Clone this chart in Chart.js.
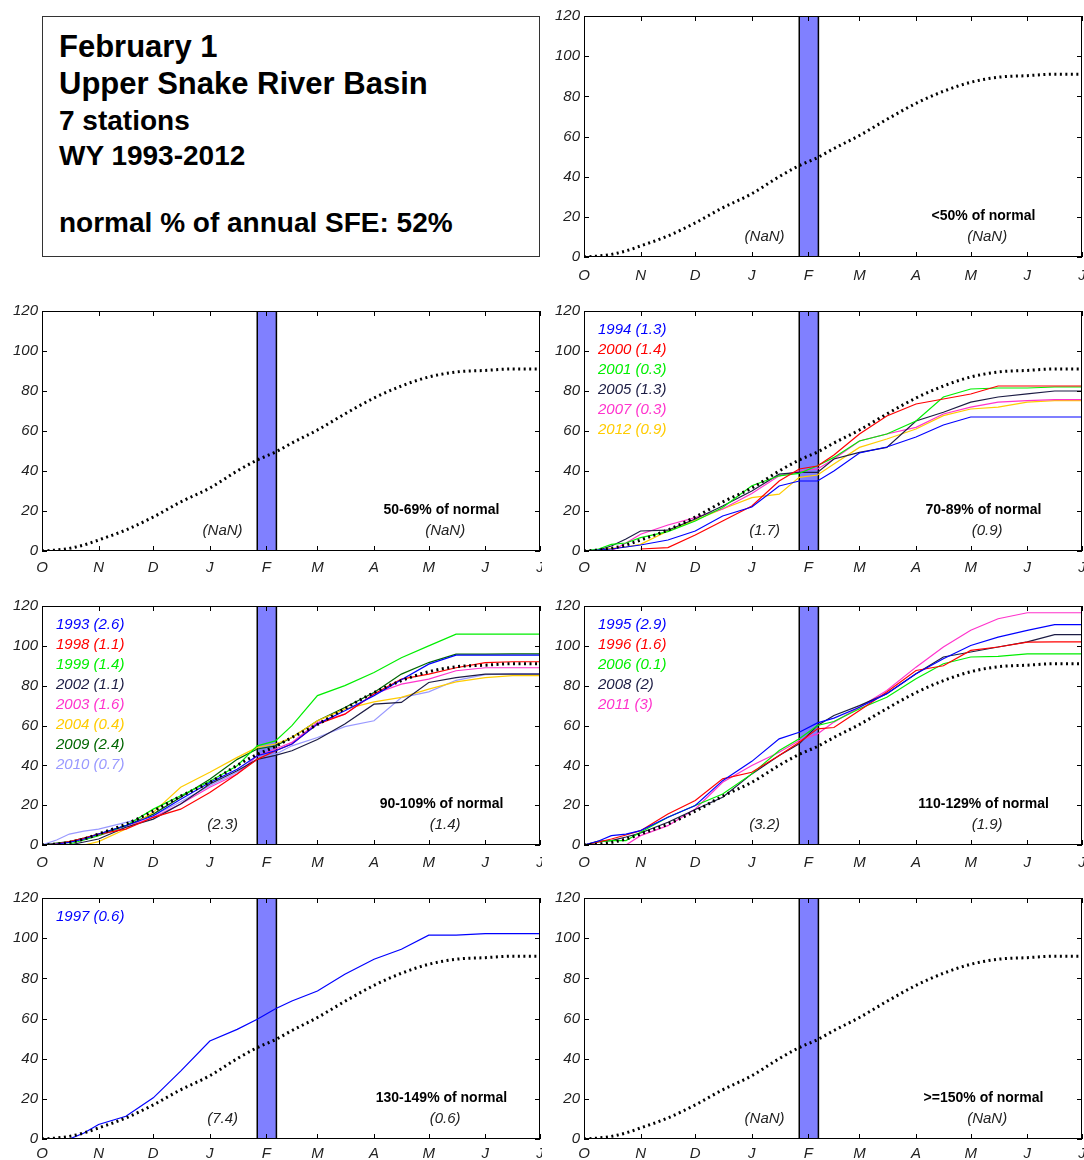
<!DOCTYPE html>
<html>
<head>
<meta charset="utf-8">
<script src="https://cdn.jsdelivr.net/npm/chart.js@4.4.1/dist/chart.umd.min.js"></script>
<style>
  html, body { margin: 0; padding: 0; background: #fff; overflow: hidden; }
  #wrap { position: relative; width: 1084px; height: 1160px; overflow: hidden; }
  canvas { position: absolute; }
  #info {
    position: absolute; left: 42px; top: 16px; width: 498px; height: 241px;
    border: 1px solid #333; box-sizing: border-box;
    font-family: "Liberation Sans", Arial, sans-serif; font-weight: bold; color: #000;
  }
  #info div { position: absolute; left: 16px; line-height: 1; white-space: nowrap; }
</style>
</head>
<body>
<div id="wrap">
  <div id="info">
    <div style="top:14px;font-size:31px">February 1</div>
    <div style="top:51px;font-size:31px">Upper Snake River Basin</div>
    <div style="top:90px;font-size:28px">7 stations</div>
    <div style="top:125px;font-size:28px">WY 1993-2012</div>
    <div style="top:192px;font-size:28px">normal % of annual SFE: 52%</div>
  </div>
</div>
<script>
// day of water year (0 = Oct 1)
const days = [0, 8, 15, 23, 31, 46, 61, 76, 92, 107, 118, 128, 137, 151, 166, 182, 197, 212, 227, 243, 258, 273];
const monthDays = [0, 31, 61, 92, 123, 151, 182, 212, 243, 273];
const monthLabels = ['O', 'N', 'D', 'J', 'F', 'M', 'A', 'M', 'J', 'J'];
const yTicks = [0, 20, 40, 60, 80, 100, 120];
const bandDays = [118, 128.5];

// normal accumulation, % of annual
const normal = [0, 0.5, 1.3, 3, 5.5, 10.5, 17, 24.5, 31.5, 40, 45.5, 49.5, 54, 60.5, 68.5, 76.5, 82.5, 87, 89.5, 90.3, 91, 91];

// 70-89% of normal
const s1994 = [0, 0.5, 1, 2, 3, 5.5, 10, 17.5, 22, 32.5, 35, 35, 40, 49, 52, 57, 63, 67, 67, 67, 67, 67];
const s2000 = [null, null, null, null, 1, 1.7, 8, 15, 22.5, 35, 41, 42.5, 48, 58.5, 67.5, 73.5, 76, 78.5, 82.5, 82.5, 82.5, 82.5];
const s2001 = [0, 1, 3.3, 4, 6.7, 9.7, 15, 21.7, 32.6, 37.6, 38.8, 42.6, 46.8, 55, 58.5, 65, 77, 81, 81.5, 81.5, 82, 82];
const s2005 = [0, 0.5, 2.5, 6, 10, 10.4, 16, 22.5, 30, 38.4, 39.3, 39.3, 46, 49.3, 51.8, 65, 69.4, 74.4, 77, 78.6, 80, 80];
const s2007 = [null, null, 0, 4, 8.4, 13, 16.7, 21, 28.7, 37.6, 40, 41, 46, 55, 58.5, 61.8, 68.5, 71.9, 74.4, 75.2, 75.7, 75.7];
const s2012 = [0, 0.5, 1.3, 2, 3.3, 10, 15.5, 21, 26.7, 28.4, 36.8, 38, 43.5, 51.8, 56, 61, 67.7, 71, 71.9, 74.4, 75.2, 75.2];

// 90-109% of normal
const s1993 = [0, 0.5, 1.3, 3, 5.5, 9.7, 14.7, 23, 31.4, 38, 44.8, 47.3, 50.7, 60.7, 67.4, 75, 83, 90.8, 95.3, 95.3, 95.3, 95.3];
const s1998 = [0, 0.5, 1.7, 3.5, 5.5, 8, 13.9, 18, 26.4, 35.6, 43, 47.3, 50.7, 60.7, 65.7, 75.8, 83.3, 85.8, 89, 91.6, 92, 92];
const s1999 = [0, 0, 0.5, 2.5, 4.7, 9.7, 18, 24.7, 32, 39.8, 49.8, 52.3, 59.9, 75, 80, 86.6, 94, 100, 105.9, 105.9, 105.9, 105.9];
const s2002 = [null, null, 0, 1.5, 3, 8.9, 13, 20.6, 30.6, 37.3, 43, 45, 47.3, 53, 60.7, 70.7, 71.6, 81.6, 84, 85.8, 85.8, 85.8];
const s2003 = [0, 0.5, 1.5, 3, 4.7, 8.9, 13.9, 20.6, 29, 35.6, 44.8, 48.2, 51.5, 61.5, 65.7, 75.8, 80.8, 83.3, 87.5, 89, 89, 89];
const s2004 = [null, null, null, 0, 1.7, 8, 16.4, 29, 36.5, 44, 49, 50.7, 54, 62.4, 68.2, 71.9, 74.1, 78.3, 81.9, 84, 85, 85];
const s2009 = [0, 1, 1.7, 3.5, 5.5, 9.7, 15.5, 24, 33, 43, 48.2, 49.8, 54, 62.4, 69, 76.6, 85.8, 91.6, 95.8, 95.8, 96, 96];
const s2010 = [0, 2.5, 5.5, 7, 8, 11.4, 14.7, 21.7, 29.8, 36.5, 43, 45.6, 49.8, 54, 59.4, 62.4, 74, 76.9, 82.7, 85.5, 86, 86];

// 110-129% of normal
const s1995 = [0, 2, 4.7, 5.5, 7.2, 13.9, 19.8, 32.3, 42, 53.3, 56.6, 61.3, 63.7, 69.2, 76, 86, 93.5, 100.2, 104.4, 107.8, 110.6, 110.6];
const s1996 = [0, 1.5, 3, 5, 7.2, 15.6, 22.3, 33.2, 36.5, 44.9, 51.6, 58.3, 59, 67.5, 76.8, 87.6, 90, 97.7, 99.4, 101.9, 102, 102];
const s2006 = [0, 1.5, 2.2, 2.2, 6.4, 13.9, 19.8, 25.6, 35.7, 47.4, 53.3, 60, 62, 68.4, 74.2, 83.5, 91, 94.4, 94.7, 96, 96, 96];
const s2008 = [0, 2, 2.2, 4, 6, 11.4, 17.8, 24, 35.7, 44.9, 50.8, 60, 65, 70, 76, 86, 94.4, 96.9, 99.4, 102, 105.6, 105.6];
const s2011 = [null, null, null, 0, 4.7, 9.7, 18.1, 31.5, 39.9, 46.6, 52.5, 55.8, 61.7, 69.2, 77.6, 89.3, 99.4, 107.8, 113.6, 116.6, 116.6, 116.6];

// 130-149% of normal
const s1997 = [null, null, 0, 3, 7.2, 11.3, 20.5, 33.8, 48.8, 54.6, 59.6, 64.9, 68.7, 73.7, 82, 89.5, 94.5, 101.5, 101.5, 102.3, 102.3, 102.3];

const panelTitles = ['<50% of normal', '50-69% of normal', '70-89% of normal', '90-109% of normal',
  '110-129% of normal', '130-149% of normal', '>=150% of normal'];
const leftNotes = ['(NaN)', '(NaN)', '(1.7)', '(2.3)', '(3.2)', '(7.4)', '(NaN)'];
const rightNotes = ['(NaN)', '(NaN)', '(0.9)', '(1.4)', '(1.9)', '(0.6)', '(NaN)'];
const panelYears = [
  [], [],
  ['1994', '2000', '2001', '2005', '2007', '2012'],
  ['1993', '1998', '1999', '2002', '2003', '2004', '2009', '2010'],
  ['1995', '1996', '2006', '2008', '2011'],
  ['1997'],
  []
];
const panelSpread = [
  [], [],
  ['1.3', '1.4', '0.3', '1.3', '0.3', '0.9'],
  ['2.6', '1.1', '1.4', '1.1', '1.6', '0.4', '2.4', '0.7'],
  ['2.9', '1.6', '0.1', '2', '3'],
  ['0.6'],
  []
];

const seriesByYear = {
  '1993': s1993, '1994': s1994, '1995': s1995, '1996': s1996, '1997': s1997, '1998': s1998,
  '1999': s1999, '2000': s2000, '2001': s2001, '2002': s2002, '2003': s2003, '2004': s2004,
  '2005': s2005, '2006': s2006, '2007': s2007, '2008': s2008, '2009': s2009, '2010': s2010,
  '2011': s2011, '2012': s2012
};

// MATLAB-ish colour order used in each panel
const palette = ['#0000ff', '#ff0000', '#00ee00', '#1c1c44', '#ff33cc', '#ffcc00', '#006600', '#9999ff'];
const FONT = '"Liberation Sans", Arial, sans-serif';

// where each panel canvas sits on the page (pad = gap above month labels)
const slots = [
  { left: 542, top: 6, h: 277, pad: 10 },
  { left: 0, top: 301, h: 276, pad: 8 },
  { left: 542, top: 301, h: 276, pad: 8 },
  { left: 0, top: 596, h: 275, pad: 9 },
  { left: 542, top: 596, h: 275, pad: 9 },
  { left: 0, top: 888, h: 272, pad: 6 },
  { left: 542, top: 888, h: 272, pad: 6 }
];

const pts = arr => days.map((d, i) => ({ x: d, y: arr[i] }));

const panelPlugin = {
  id: 'panelDeco',
  beforeDatasetsDraw(chart) {
    const { ctx, chartArea: a, scales: { x } } = chart;
    const x0 = x.getPixelForValue(bandDays[0]);
    const x1 = x.getPixelForValue(bandDays[1]);
    ctx.save();
    ctx.fillStyle = '#8080ff';
    ctx.fillRect(x0, a.top, x1 - x0, a.bottom - a.top);
    ctx.strokeStyle = '#000';
    ctx.lineWidth = 1.5;
    ctx.beginPath();
    ctx.moveTo(x0, a.top); ctx.lineTo(x0, a.bottom);
    ctx.moveTo(x1, a.top); ctx.lineTo(x1, a.bottom);
    ctx.stroke();
    ctx.restore();
  },
  afterDraw(chart) {
    const { ctx, chartArea: a, scales: { x, y } } = chart;
    const idx = chart.options.plugins.panelDeco.index;
    ctx.save();
    // box
    ctx.strokeStyle = '#000';
    ctx.lineWidth = 1;
    ctx.strokeRect(a.left + 0.5, a.top + 0.5, a.right - a.left - 1, a.bottom - a.top - 1);
    // inward ticks
    ctx.beginPath();
    monthDays.forEach(v => {
      const px = Math.round(x.getPixelForValue(v)) + 0.5;
      ctx.moveTo(px, a.bottom); ctx.lineTo(px, a.bottom - 5);
      ctx.moveTo(px, a.top); ctx.lineTo(px, a.top + 5);
    });
    yTicks.forEach(v => {
      const py = Math.round(y.getPixelForValue(v)) + 0.5;
      ctx.moveTo(a.left, py); ctx.lineTo(a.left + 5, py);
      ctx.moveTo(a.right, py); ctx.lineTo(a.right - 5, py);
    });
    ctx.stroke();

    // category text
    ctx.textAlign = 'center';
    ctx.textBaseline = 'middle';
    ctx.fillStyle = '#000';
    ctx.font = 'bold 14px ' + FONT;
    ctx.fillText(panelTitles[idx], x.getPixelForValue(219), y.getPixelForValue(20.5));
    ctx.font = 'italic 15px ' + FONT;
    ctx.fillStyle = '#222';
    ctx.fillText(leftNotes[idx], x.getPixelForValue(99), y.getPixelForValue(10));
    ctx.fillText(rightNotes[idx], x.getPixelForValue(221), y.getPixelForValue(10));

    // year legend
    ctx.textAlign = 'left';
    panelYears[idx].forEach((yr, i) => {
      ctx.fillStyle = palette[i];
      ctx.fillText(yr + ' (' + panelSpread[idx][i] + ')', a.left + 14, a.top + 19 + i * 20);
    });
    ctx.restore();
  }
};

const wrap = document.getElementById('wrap');

slots.forEach((slot, idx) => {
  const cv = document.createElement('canvas');
  cv.width = 542;
  cv.height = slot.h;
  cv.style.left = slot.left + 'px';
  cv.style.top = slot.top + 'px';
  wrap.appendChild(cv);

  const axisH = slot.h - 10 - (idx === 0 ? 241 : idx < 3 ? 240 : idx < 5 ? 239 : 241);

  const datasets = [{
    label: 'normal',
    data: pts(normal),
    borderColor: '#000',
    borderWidth: 3,
    borderDash: [2, 3.5],
    borderCapStyle: 'butt',
    pointRadius: 0,
    cubicInterpolationMode: 'monotone',
    fill: false
  }];
  panelYears[idx].forEach((yr, i) => {
    datasets.push({
      label: yr,
      data: pts(seriesByYear[yr]),
      borderColor: palette[i],
      borderWidth: 1.2,
      pointRadius: 0,
      tension: 0,
      fill: false
    });
  });

  new Chart(cv.getContext('2d'), {
    type: 'line',
    data: { datasets },
    plugins: [panelPlugin],
    options: {
      responsive: false,
      animation: false,
      devicePixelRatio: 1,
      layout: { padding: { top: 10, right: 2, left: 0, bottom: 0 } },
      plugins: {
        legend: { display: false },
        tooltip: { enabled: false },
        panelDeco: { index: idx }
      },
      scales: {
        x: {
          type: 'linear',
          min: 0,
          max: 273,
          afterBuildTicks: s => { s.ticks = monthDays.map(v => ({ value: v })); },
          afterFit: s => { s.height = axisH; s.paddingLeft = 0; s.paddingRight = 0; },
          grid: { display: false, drawTicks: false },
          border: { display: false },
          ticks: {
            callback: (v, i) => monthLabels[i],
            autoSkip: false,
            maxRotation: 0,
            padding: slot.pad,
            color: '#222',
            font: { family: FONT, size: 15, style: 'italic' }
          }
        },
        y: {
          min: 0,
          max: 120,
          afterBuildTicks: s => { s.ticks = yTicks.map(v => ({ value: v })); },
          afterFit: s => { s.width = 42; s.paddingTop = 0; s.paddingBottom = 0; },
          grid: { display: false, drawTicks: false },
          border: { display: false },
          ticks: {
            padding: 4,
            color: '#222',
            font: { family: FONT, size: 15, style: 'italic' }
          }
        }
      }
    }
  });
});
</script>
</body>
</html>
